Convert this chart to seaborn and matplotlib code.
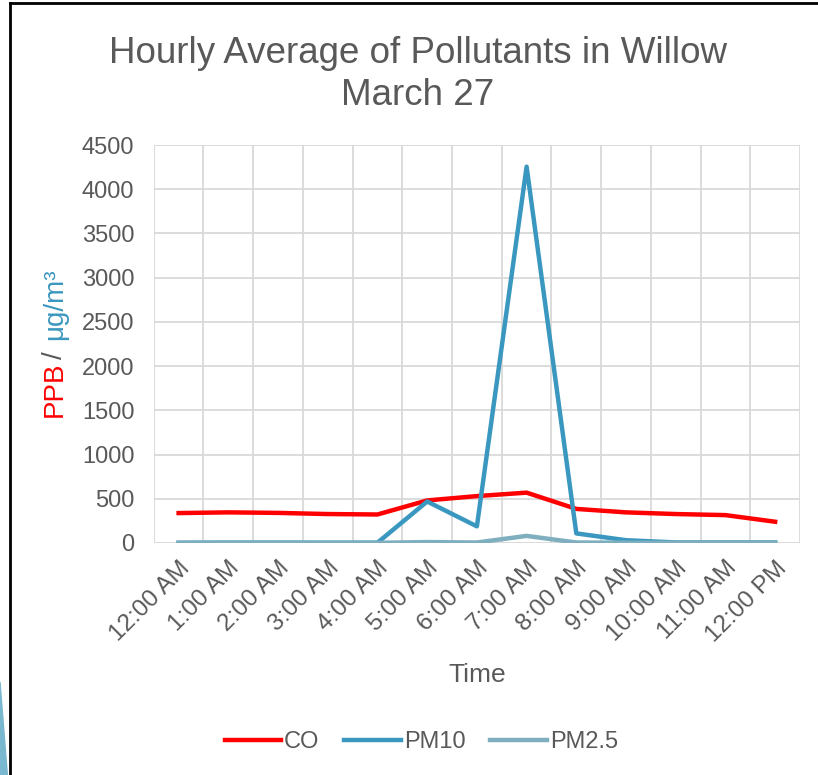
import seaborn as sns
import pandas as pd
import numpy as np
from matplotlib import pyplot as plt
from matplotlib.lines import Line2D
from matplotlib.patches import Polygon

hours = ['12:00 AM', '1:00 AM', '2:00 AM', '3:00 AM', '4:00 AM', '5:00 AM', '6:00 AM',
         '7:00 AM', '8:00 AM', '9:00 AM', '10:00 AM', '11:00 AM', '12:00 PM']
co = [338, 346, 340, 327, 322, 481, 530, 569, 385, 346, 327, 315, 240]
pm10 = [2, 4, 4, 3, 3, 469, 188, 4255, 108, 31, 6, 6, 6]
pm25 = [2, 3, 3, 2, 2, 10, 5, 80, 5, 3, 3, 4, 4]
series = ['CO', 'PM10', 'PM2.5']
colors = ['#FF0000', '#3A97BF', '#7FAFBE']

df = pd.DataFrame({'Time': hours * 3,
                   'Value': co + pm10 + pm25,
                   'Pollutant': np.repeat(series, len(hours))})

plt.rcParams['font.family'] = ['Liberation Sans', 'DejaVu Sans']
grey = '#595959'

fig = plt.figure(figsize=(8.18, 7.75), dpi=100)
ax = fig.add_axes([0.188, 0.2994, 0.79, 0.5135])

sns.lineplot(data=df, x='Time', y='Value', hue='Pollutant', palette=dict(zip(series, colors)),
             linewidth=3.2, sort=False, ax=ax, legend=False)

ax.set_xlim(-0.5, len(hours) - 0.5)
ax.set_ylim(0, 4500)
ax.set_yticks(range(0, 4501, 500))
ax.set_xticks(range(len(hours)))
ax.set_xticklabels(hours, rotation=45, ha='right', rotation_mode='anchor')
ax.set_xticks(np.arange(-0.5, len(hours)), minor=True)
ax.grid(False)
ax.grid(True, which='minor', axis='x', color='#D9D9D9', linewidth=1.3)
ax.grid(True, which='major', axis='y', color='#D9D9D9', linewidth=1.3)
ax.set_axisbelow(True)
ax.tick_params(axis='y', length=0, labelsize=17, labelcolor=grey, pad=14)
ax.tick_params(axis='x', which='both', length=0, labelsize=17.5, labelcolor=grey, pad=10)
for s in ax.spines.values():
    s.set_visible(False)

ax.set_xlabel('Time', fontsize=19, color=grey, labelpad=12)
ax.set_ylabel('')

# multi-colour y label
fig.text(0.067, 0.462, 'PPB', rotation=90, color='#FF0000', fontsize=20, ha='center', va='bottom')
fig.text(0.067, 0.537, '/', rotation=90, color=grey, fontsize=20, ha='center', va='bottom')
fig.text(0.067, 0.561, 'μg/m³', rotation=90, color='#3A97BF', fontsize=20, ha='center', va='bottom')

fig.text(0.511, 0.954, 'Hourly Average of Pollutants in Willow\nMarch 27', ha='center', va='top',
         fontsize=26.5, color=grey, linespacing=1.26)

handles = [Line2D([0], [0], color=c, linewidth=3.2) for c in colors]
fig.legend(handles, series, loc='center', bbox_to_anchor=(0.515, 0.042), ncol=3, frameon=False,
           fontsize=17, labelcolor=grey, handlelength=2.4, handletextpad=0.12, columnspacing=1.05)

# slide frame
fig.add_artist(Line2D([0.012, 0.012], [0, 0.996], color='black', linewidth=2, transform=fig.transFigure))
fig.add_artist(Line2D([0.012, 1], [0.996, 0.996], color='black', linewidth=2, transform=fig.transFigure))
fig.add_artist(Polygon([[0, 0.12], [0.009, 0], [0, 0]], closed=True, color='#7AB8D0', transform=fig.transFigure))

plt.savefig('out.png', dpi=100)
